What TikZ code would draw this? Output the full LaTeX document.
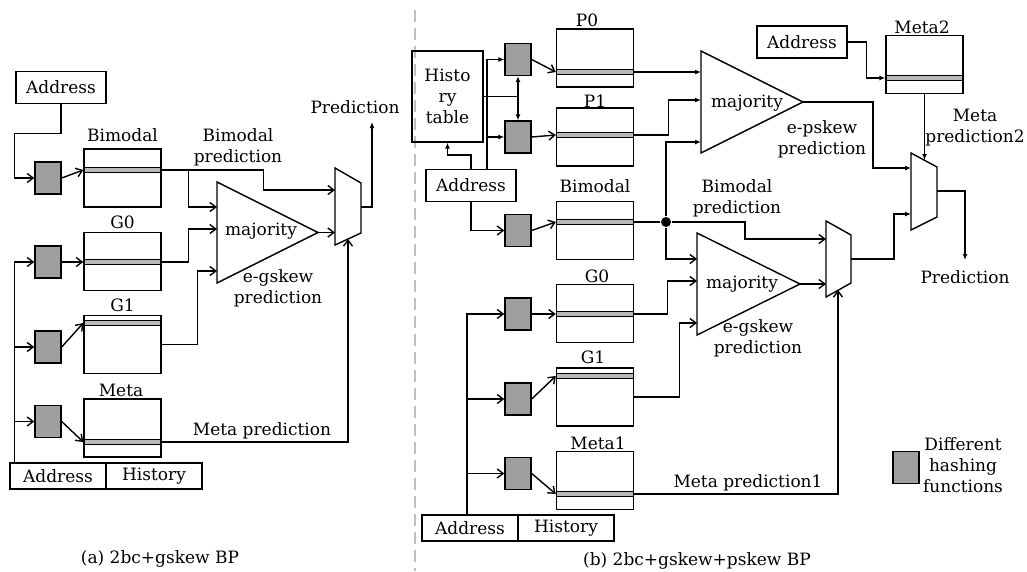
\documentclass[tikz,border=0pt]{standalone}
\usepackage{fontspec}
\setmainfont{DejaVu Serif}
\usetikzlibrary{arrows.meta}
\tikzset{
  tbl/.style={draw, minimum width=77pt, minimum height=58pt, inner sep=0pt},
  stripe/.style={draw, fill=gray!55, minimum width=77pt, minimum height=5pt, inner sep=0pt},
  hashfn/.style={draw, fill=gray!75, minimum width=26pt, minimum height=32pt, inner sep=0pt},
  regbox/.style={draw, minimum height=32pt, inner sep=2pt},
  cell/.style={draw, minimum width=96pt, minimum height=26pt, inner sep=0pt},
  lbl/.style={anchor=base, inner sep=0pt},
  txt/.style={align=center, inner sep=0pt},
  joint/.style={circle, fill=black, minimum size=10pt, inner sep=0pt},
  divider/.style={gray!50, line width=2pt, dash pattern=on 12pt off 6pt},
  fa/.style={-{Latex[length=6pt,width=5pt]}},
}
\begin{document}
\begin{tikzpicture}[x=1pt, y=-1pt, line width=1.4pt, font=\fontsize{17}{21}\selectfont,
  >={Straight Barb[length=6pt,width=9pt]}]
\useasboundingbox (0,0) rectangle (1027,571);
%(a) tables & hashing
\node[regbox, minimum width=90pt] (adrA) at (61,87.5) {Address};
\node[hashfn] (hA1) at (48,178) {};
\node[hashfn] (hA2) at (48,262) {};
\node[hashfn] (hA3) at (48,347) {};
\node[hashfn] (hA4) at (48,421.5) {};
\node[tbl] (bimA) at (122.5,178) {};
\node[stripe] (bimAs) at (122.5,170) {};
\node[tbl] (g0A) at (122.5,261.5) {};
\node[stripe] (g0As) at (122.5,262) {};
\node[tbl] (g1A) at (122.5,344.5) {};
\node[stripe] (g1As) at (122.5,323) {};
\node[tbl] (metaA) at (122.5,428) {};
\node[stripe] (metaAs) at (122.5,442) {};
\node[cell] (ahA1) at (58,476) {Address};
\node[cell] (ahA2) at (154,476) {History};
\node[lbl] (bimAl) at (122.5,141) {Bimodal};
\node[lbl] (g0Al) at (122.5,228) {G0};
\node[lbl] (g1Al) at (122.5,311) {G1};
\node[lbl] (metaAl) at (121,396) {Meta};
%(a) majority & mux
\coordinate (trAi1) at (217,207);
\coordinate (trAi2) at (217,229);
\coordinate (trAi3) at (217,271);
\coordinate (trAo) at (318,232.5);
\draw (217,182) -- (trAo) -- (217,283) -- cycle;
\coordinate (muxAi1) at (335,190);
\coordinate (muxAi2) at (335,232.5);
\coordinate (muxAi3) at (348,239);
\coordinate (muxAo) at (361,207);
\draw (335,168) -- (361,183) -- (361,233) -- (335,245) -- cycle;
\node[txt] (bpA) at (238,147) {Bimodal\\prediction};
\node[lbl] (majA) at (261,235) {majority};
\node[txt] (egA) at (278,288) {e-gskew\\prediction};
\node[lbl] (mpA) at (262,435) {Meta prediction};
\node[lbl] (predA) at (355,113) {Prediction};
\node[lbl] (capA) at (160,563) {(a) 2bc+gskew BP};
%(a) wires
\draw[->] (adrA.south) -- ++(0,29) -| ([xshift=-20pt]hA1.west) -- (hA1.west);
\draw[->] (ahA1.north west) ++(5,0) |- (hA2.west);
\draw[->] ([xshift=-20pt]hA3.west) -- (hA3.west);
\draw[->] ([xshift=-20pt]hA4.west) -- (hA4.west);
\draw[->] (hA1.east) -- (bimAs.west);
\draw[->] (hA2.east) -- (g0As.west);
\draw[->] (hA3.east) -- (g1As.west);
\draw[->] (hA4.east) -- (metaAs.west);
\draw[->] (bimAs.east) -- ++(102,0) |- (muxAi1);
\draw[->] (bimAs.east) ++(27,0) |- (trAi1);
\draw[->] (g0As.east) -- ++(27,0) |- (trAi2);
\draw[->] (g1A.east) -- ++(36,0) |- (trAi3);
\draw[->] (metaAs.east) -| (muxAi3);
\draw[->] (trAo) -- (muxAi2);
\draw[fa] (muxAo) -- ++(11,0) -- ++(0,-85);
% Trennlinie
\draw[divider] (415,10) -- (415,571);
%(b) tables & hashing
\node[regbox, minimum width=71pt, minimum height=91pt, align=center] (hist) at (447.5,96.5) {Histo\\ry\\table};
\node[regbox, minimum width=90pt] (adrB) at (471,185.5) {Address};
\node[regbox, minimum width=90pt] (adrC) at (802,42) {Address};
\node[hashfn] (hP0) at (518,59.5) {};
\node[hashfn] (hP1) at (518,137) {};
\node[hashfn] (hBm) at (518,230.5) {};
\node[hashfn] (hG0) at (518,314) {};
\node[hashfn] (hG1) at (518,399) {};
\node[hashfn] (hM1) at (518,473.5) {};
\node[tbl] (p0) at (595,58) {};
\node[stripe] (p0s) at (595,72) {};
\node[tbl] (p1) at (595,137) {};
\node[stripe] (p1s) at (595,135) {};
\node[tbl] (bimB) at (595,230.5) {};
\node[stripe] (bimBs) at (595,222) {};
\node[tbl] (g0B) at (595,313.5) {};
\node[stripe] (g0Bs) at (595,314) {};
\node[tbl] (g1B) at (595,397) {};
\node[stripe] (g1Bs) at (595,376) {};
\node[tbl] (m1B) at (595,480.5) {};
\node[stripe] (m1Bs) at (595,494) {};
\node[tbl] (meta2) at (924.5,64.5) {};
\node[stripe] (meta2s) at (924.5,78) {};
\node[cell] (ahB1) at (470,528) {Address};
\node[cell] (ahB2) at (566,528) {History};
\node[joint] (jB) at (666,222) {};
\node[lbl] (p0l) at (587,26) {P0};
\node[lbl] (p1l) at (595,107) {P1};
\node[lbl] (bimBl) at (595,192) {Bimodal};
\node[lbl] (g0Bl) at (597,282) {G0};
\node[lbl] (g1Bl) at (593,363) {G1};
\node[lbl] (m1Bl) at (598,449) {Meta1};
\node[lbl] (meta2l) at (922,33) {Meta2};
%(b) majority & mux
\coordinate (trBi1) at (701,72);
\coordinate (trBi2) at (701,100);
\coordinate (trBi3) at (701,142);
\coordinate (trBo) at (803,102);
\draw (701,51) -- (trBo) -- (701,153) -- cycle;
\coordinate (trCi1) at (697,259);
\coordinate (trCi2) at (697,281);
\coordinate (trCi3) at (697,323);
\coordinate (trCo) at (800,284);
\draw (697,233) -- (trCo) -- (697,335) -- cycle;
\coordinate (muxBi1) at (826,239);
\coordinate (muxBi2) at (826,284);
\coordinate (muxBi3) at (838,290);
\coordinate (muxBo) at (851,259);
\draw (826,221) -- (851,235) -- (851,283) -- (826,297) -- cycle;
\coordinate (muxCi1) at (911,168);
\coordinate (muxCi2) at (911,214);
\coordinate (muxCi3) at (924.5,160);
\coordinate (muxCo) at (937,191);
\draw (911,153) -- (937,167) -- (937,217) -- (911,230) -- cycle;
\node[txt] (bpB) at (737,198.5) {Bimodal\\prediction};
\node[lbl] (majB) at (747,107) {majority};
\node[txt] (epB) at (822,139.5) {e-pskew\\prediction};
\node[lbl] (majC) at (742,288) {majority};
\node[txt] (egB) at (758,338.5) {e-gskew\\prediction};
\node[txt] (mp2) at (975,128) {Meta\\prediction2};
\node[lbl] (mp1) at (748,487) {Meta prediction1};
\node[lbl] (predB) at (965,283) {Prediction};
\node[lbl] (capB) at (697,565) {(b) 2bc+gskew+pskew BP};
%(b) wires
\draw[fa] (adrB.north) -- ++(0,-14) -| (hist.south);
\draw[fa] ([xshift=16pt]adrB.north) |- (hP0.west);
\draw[fa] ([xshift=16pt]adrB.north) |- (hP1.west);
\draw (hist.east) -- (hist.east -| hP0.south);
\draw[{Latex[length=6pt,width=5pt]}-{Latex[length=6pt,width=5pt]}] (hP0.south) -- (hP1.north);
\draw[->] (adrB.south) |- (hBm.west);
\draw[->] (hP0.east) -- (p0s.west);
\draw[->] (hP1.east) -- (p1s.west);
\draw[->] (hBm.east) -- (bimBs.west);
\draw[->] ([xshift=-3pt]ahB1.north) |- (hG0.west);
\draw[->] ([xshift=-38pt]hG1.west) -- (hG1.west);
\draw[->] ([xshift=-38pt]hM1.west) -- (hM1.west);
\draw[->] (hG0.east) -- (g0Bs.west);
\draw[->] (hG1.east) -- (g1Bs.west);
\draw[->] (hM1.east) -- (m1Bs.west);
\draw[fa] (p0s.east) -- (trBi1);
\draw[fa] (p1s.east) -- ++(34,0) |- (trBi2);
\draw (bimBs.east) -- (jB);
\draw[fa] (jB) |- (trBi3);
\draw[->] (jB) -- ++(79,0) |- (muxBi1);
\draw[->] (jB) |- (trCi1);
\draw[->] (g0Bs.east) -- ++(33,0) |- (trCi2);
\draw[->] (g1B.east) -- ++(45,0) |- (trCi3);
\draw[->] (trCo) -- (muxBi2);
\draw[->] (m1Bs.east) -| (muxBi3);
\draw[fa] (muxBo) -- ++(43,0) |- (muxCi2);
\draw[fa] (trBo) -- ++(70,0) |- (muxCi1);
\draw[fa] (adrC.east) -- ++(19,0) |- (meta2s.west);
\draw[fa] (meta2.south) -- (muxCi3);
\draw[fa] (muxCo) -- ++(28,0) -- ++(0,69);
% Legende
\node[hashfn] (hL) at (906,467.5) {};
\node[txt] (hLl) at (963,465) {Different\\hashing\\functions};
\end{tikzpicture}
\end{document}
